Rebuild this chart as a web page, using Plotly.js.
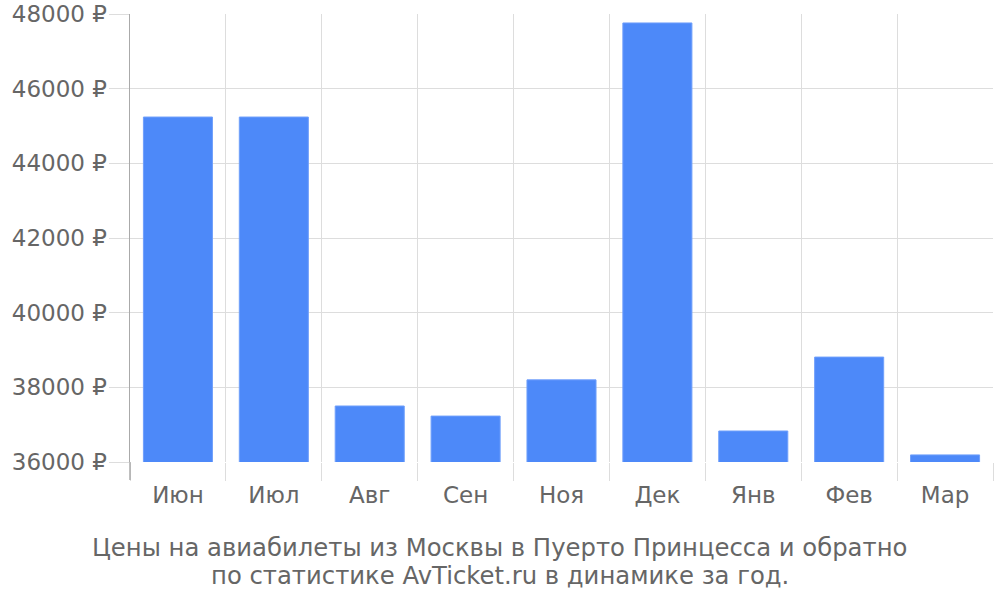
<!DOCTYPE html>
<html>
<head>
<meta charset="utf-8">
<script src="https://cdn.plot.ly/plotly-3.0.1.min.js"></script>
<style>
  html, body { margin: 0; padding: 0; background: #fff; }
  #chart { width: 1000px; height: 600px; }
</style>
</head>
<body>
<div id="chart"></div>
<script>
// Monthly prices
const months = ['Июн', 'Июл', 'Авг', 'Сен', 'Ноя', 'Дек', 'Янв', 'Фев', 'Мар'];
const prices = [45240, 45240, 37500, 37230, 38200, 47760, 36830, 38810, 36190];
const yTicks = [36000, 38000, 40000, 42000, 44000, 46000, 48000];
const yTickText = yTicks.map(v => v + ' ₽');
const captionLines = [
    'Цены на авиабилеты из Москвы в Пуерто Принцесса и обратно',
    'по статистике AvTicket.ru в динамике за год.'
];

const font = 'DejaVu Sans, sans-serif';
const textColor = '#666666';
const gridColor = '#dddddd';

const traces = [{
    type: 'bar',
    x: months,
    y: prices,
    marker: { color: '#4d89f9', line: { width: 1, color: '#6f9ffb' } },
    hoverinfo: 'skip'
}];

const plotH = 448;
const layout = {
    width: 1000,
    height: 600,
    margin: { l: 130, r: 7, t: 14, b: 138 },
    paper_bgcolor: '#ffffff',
    plot_bgcolor: '#ffffff',
    showlegend: false,
    bargap: 0.28,
    font: { family: font, color: textColor },
    xaxis: {
        type: 'category',
        tickson: 'boundaries',
        ticks: 'outside',
        ticklen: 18,
        tickcolor: gridColor,
        tickwidth: 1,
        showgrid: true,
        gridcolor: gridColor,
        gridwidth: 1,
        showline: false,
        zeroline: false,
        ticklabelstandoff: 17,
        tickfont: { size: 23, color: textColor, family: font },
        range: [-0.5, 8.5]
    },
    yaxis: {
        range: [36000, 48000],
        tickvals: yTicks,
        ticktext: yTickText,
        ticks: 'outside',
        ticklen: 20,
        tickcolor: gridColor,
        showgrid: true,
        gridcolor: gridColor,
        gridwidth: 1,
        zeroline: false,
        showline: true,
        linecolor: '#aaaaaa',
        linewidth: 1.5,
        ticklabelstandoff: -3,
        tickfont: { size: 23, color: textColor, family: font }
    },
    shapes: [{
        // left spine continues down through the tick zone
        type: 'line', xref: 'paper', yref: 'paper',
        x0: 0, x1: 0, y0: -18 / plotH, y1: 0,
        line: { color: '#aaaaaa', width: 1.5 }
    }],
    annotations: captionLines.map((t, i) => ({
        xref: 'paper', yref: 'paper',
        x: 0.4287, y: -(85 + 28 * i) / plotH,
        xanchor: 'center', yanchor: 'middle',
        text: t,
        showarrow: false,
        font: { size: 24.3, color: textColor, family: font }
    }))
};

Plotly.newPlot('chart', traces, layout, { displayModeBar: false, staticPlot: true });
</script>
</body>
</html>
